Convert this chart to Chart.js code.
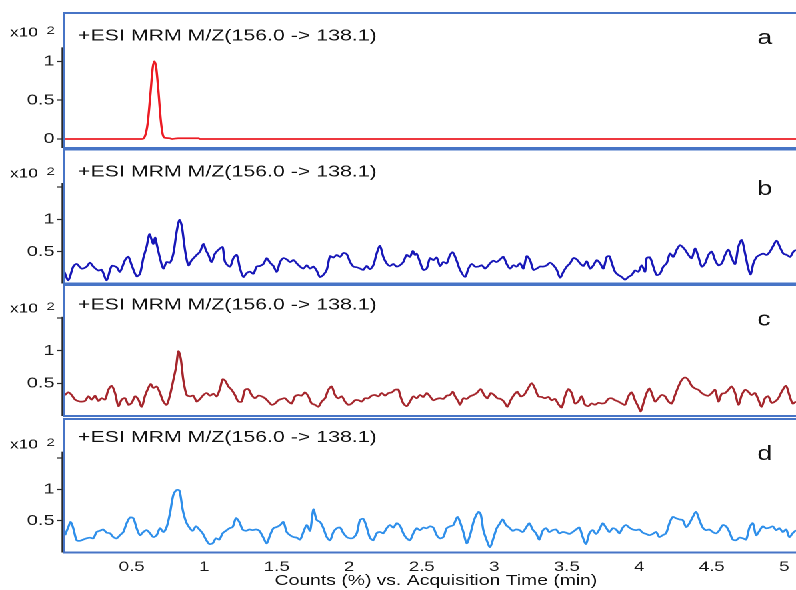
<!DOCTYPE html>
<html><head><meta charset="utf-8">
<script src="https://cdn.jsdelivr.net/npm/chart.js@4.4.0/dist/chart.umd.min.js"></script>
<style>
html,body{margin:0;padding:0;background:#fff;overflow:hidden;width:796px;height:590px;}
#wrap{position:absolute;left:0;top:0;width:597px;height:590px;transform:scaleX(1.3333);transform-origin:0 0;}
canvas{position:absolute;left:0;}
</style></head><body>
<div id="wrap">
<canvas id="ca" width="597" height="152" style="top:0px"></canvas>
<canvas id="cb" width="597" height="142" style="top:146px"></canvas>
<canvas id="cc" width="597" height="138" style="top:282px"></canvas>
<canvas id="cd" width="597" height="176" style="top:414px"></canvas>
</div>
<script>
// ---------- data (time in min, counts x10^2) ----------
const panelTitle = "+ESI MRM M/Z(156.0 -> 138.1)";
const xAxisTitle = "Counts (%) vs. Acquisition Time (min)";
const panelLetters = ["a", "b", "c", "d"];
const xTicks = [0.5, 1, 1.5, 2, 2.5, 3, 3.5, 4, 4.5, 5];
const yTicksA = [0, 0.5, 1];
const yLabelsA = ["0", "0.5", "1"];
const yTicksBCD = [0.5, 1, 1.5];
const yLabelsBCD = ["0.5", "1", ""];

const timeA = [0.033,0.570,0.590,0.610,0.630,0.645,0.656,0.668,0.685,0.700,0.715,0.730,0.760,0.780,0.820,0.960,0.970,5.081];
const countsA = [0,0,0.03,0.20,0.60,0.92,1.00,0.93,0.60,0.25,0.05,0.015,0.01,0,0.01,0.01,0,0];

const timeB = [0.035,0.063,0.097,0.120,0.155,0.189,0.212,0.235,0.270,0.293,
0.327,0.362,0.396,0.419,0.454,0.477,0.500,0.534,0.557,0.580,
0.603,0.622,0.638,0.649,0.661,0.672,0.695,0.718,0.741,0.764,
0.787,0.810,0.829,0.845,0.868,0.891,0.914,0.948,0.971,0.994,
1.012,1.029,1.051,1.074,1.109,1.127,1.144,1.178,1.201,1.224,
1.247,1.270,1.293,1.316,1.339,1.362,1.385,1.408,1.431,1.454,
1.477,1.500,1.523,1.546,1.569,1.592,1.615,1.638,1.661,1.684,
1.707,1.730,1.752,1.775,1.798,1.821,1.845,1.868,1.891,1.914,
1.937,1.960,1.983,2.006,2.029,2.052,2.074,2.097,2.120,2.143,
2.166,2.189,2.212,2.235,2.258,2.281,2.304,2.327,2.350,
2.373,2.396,2.419,2.438,2.454,2.465,2.488,2.511,2.534,2.557,
2.580,2.603,2.626,2.649,2.672,2.695,2.714,2.741,2.764,2.799,
2.822,2.845,2.868,2.891,2.914,2.937,2.971,2.994,3.017,3.040,
3.063,3.086,3.109,3.132,3.155,3.178,3.201,3.224,3.247,3.270,
3.293,3.316,3.339,3.362,3.385,3.408,3.431,3.454,3.477,3.500,
3.523,3.546,3.569,3.592,3.615,3.638,3.661,3.684,3.707,3.730,
3.753,3.776,3.794,3.810,3.833,3.856,3.879,3.902,3.925,3.948,
3.971,3.994,4.017,4.040,4.051,4.074,4.097,4.120,4.143,4.166,
4.189,4.212,4.235,4.258,4.281,4.300,4.316,4.339,4.362,4.385,
4.408,4.431,4.454,4.477,4.500,4.523,4.546,4.569,4.592,4.615,
4.638,4.661,4.684,4.707,4.730,4.752,4.768,4.787,4.810,4.832,
4.855,4.878,4.901,4.924,4.947,4.970,4.994,5.017,5.040,5.063,5.081];
const countsB = [0.19,0.06,0.27,0.31,0.24,0.27,0.33,0.27,0.21,0.22,
0.06,0.28,0.26,0.19,0.37,0.42,0.29,0.12,0.16,0.40,
0.58,0.77,0.68,0.62,0.72,0.62,0.40,0.24,0.34,0.33,
0.47,0.81,0.99,0.90,0.52,0.29,0.37,0.45,0.50,0.62,
0.52,0.45,0.34,0.47,0.55,0.57,0.34,0.27,0.40,0.45,
0.24,0.11,0.17,0.19,0.16,0.27,0.28,0.31,0.40,0.33,
0.28,0.19,0.34,0.40,0.38,0.34,0.37,0.32,0.27,0.24,
0.29,0.24,0.27,0.21,0.11,0.14,0.22,0.43,0.41,0.45,
0.42,0.48,0.46,0.34,0.27,0.26,0.24,0.22,0.28,0.23,
0.29,0.47,0.59,0.42,0.32,0.28,0.31,0.27,0.29,
0.34,0.45,0.42,0.51,0.45,0.47,0.34,0.22,0.24,0.40,
0.37,0.41,0.28,0.34,0.32,0.45,0.49,0.36,0.22,0.11,
0.24,0.31,0.27,0.27,0.29,0.24,0.32,0.36,0.34,0.38,
0.42,0.31,0.24,0.29,0.27,0.32,0.24,0.43,0.37,0.22,
0.24,0.27,0.27,0.29,0.33,0.29,0.22,0.10,0.19,0.27,
0.32,0.40,0.38,0.32,0.28,0.35,0.24,0.29,0.37,0.32,
0.24,0.42,0.43,0.33,0.19,0.14,0.11,0.07,0.11,0.14,
0.21,0.19,0.29,0.19,0.40,0.41,0.27,0.14,0.16,0.27,
0.32,0.47,0.42,0.53,0.60,0.57,0.53,0.45,0.40,0.55,
0.42,0.27,0.32,0.45,0.50,0.37,0.29,0.32,0.45,0.53,
0.40,0.31,0.58,0.68,0.47,0.24,0.15,0.32,0.42,0.45,
0.47,0.45,0.50,0.59,0.67,0.57,0.47,0.45,0.42,0.50,0.53];

const timeC = [0.040,0.063,0.086,0.109,0.143,0.178,0.201,0.224,0.247,0.270,
0.293,0.316,0.339,0.362,0.385,0.408,0.431,0.454,0.477,0.500,
0.523,0.546,0.569,0.592,0.615,0.631,0.649,0.672,0.695,0.718,
0.741,0.764,0.787,0.806,0.822,0.838,0.856,0.879,0.902,0.925,
0.948,0.971,0.994,1.017,1.040,1.063,1.086,1.109,1.127,1.144,
1.167,1.189,1.212,1.235,1.258,1.281,1.304,1.327,1.350,1.373,
1.396,1.419,1.442,1.465,1.488,1.511,1.534,1.557,1.580,1.603,
1.626,1.649,1.672,1.695,1.718,1.741,1.764,1.787,1.810,1.833,
1.856,1.879,1.902,1.925,1.948,1.971,1.994,2.017,2.040,2.063,
2.086,2.109,2.132,2.155,2.178,2.201,2.224,2.247,2.270,2.293,
2.316,2.339,
2.350,2.373,2.396,2.419,2.442,2.465,2.488,2.511,2.534,2.557,
2.580,2.603,2.626,2.649,2.672,2.695,2.714,2.730,2.753,2.764,
2.787,2.810,2.833,2.856,2.879,2.907,2.930,2.953,2.976,2.999,
3.022,3.044,3.067,3.090,3.113,3.136,3.159,3.182,3.205,3.228,
3.258,3.281,3.304,3.327,3.350,3.373,3.396,3.419,3.442,3.465,
3.488,3.511,3.534,3.557,3.580,3.603,3.626,3.649,3.672,3.695,
3.718,3.741,3.764,3.787,3.810,3.833,3.856,3.879,3.902,3.925,
3.948,3.971,3.994,4.010,4.028,4.051,4.070,4.086,4.109,4.132,
4.155,4.178,4.201,4.224,4.247,4.270,4.293,4.316,4.339,4.362,
4.385,4.408,4.431,4.454,4.477,4.500,4.523,4.546,4.569,4.592,
4.615,4.638,4.661,4.684,4.707,4.730,4.752,4.775,4.798,4.821,
4.844,4.867,4.890,4.913,4.936,4.959,4.982,5.012,5.035,5.058,5.081];
const countsC = [0.32,0.36,0.32,0.25,0.22,0.23,0.30,0.25,0.31,0.23,
0.27,0.25,0.40,0.46,0.35,0.15,0.25,0.27,0.17,0.20,
0.30,0.25,0.14,0.31,0.43,0.49,0.43,0.45,0.35,0.22,
0.17,0.32,0.55,0.75,0.99,0.88,0.55,0.32,0.30,0.31,
0.22,0.26,0.32,0.35,0.31,0.34,0.30,0.42,0.56,0.54,
0.45,0.40,0.32,0.22,0.22,0.40,0.41,0.32,0.27,0.31,
0.30,0.27,0.22,0.17,0.19,0.24,0.26,0.27,0.22,0.19,
0.30,0.32,0.31,0.36,0.30,0.19,0.17,0.14,0.22,0.27,
0.40,0.45,0.32,0.27,0.30,0.22,0.17,0.19,0.24,0.24,
0.22,0.27,0.27,0.31,0.32,0.30,0.35,0.31,0.35,0.36,
0.40,0.40,
0.32,0.19,0.15,0.22,0.30,0.27,0.32,0.29,0.35,0.30,
0.24,0.26,0.27,0.26,0.31,0.32,0.37,0.30,0.22,0.17,
0.27,0.26,0.30,0.32,0.35,0.41,0.32,0.27,0.35,0.32,
0.27,0.26,0.22,0.14,0.24,0.32,0.37,0.30,0.32,0.40,
0.50,0.42,0.30,0.29,0.27,0.29,0.24,0.26,0.18,0.13,
0.30,0.41,0.35,0.19,0.22,0.30,0.17,0.15,0.19,0.17,
0.20,0.19,0.20,0.26,0.27,0.24,0.22,0.19,0.17,0.30,
0.36,0.24,0.14,0.07,0.19,0.35,0.42,0.35,0.22,0.27,
0.32,0.30,0.22,0.19,0.32,0.45,0.55,0.59,0.55,0.46,
0.42,0.40,0.35,0.32,0.31,0.35,0.40,0.22,0.34,0.35,
0.40,0.45,0.35,0.17,0.32,0.40,0.37,0.32,0.35,0.25,
0.14,0.27,0.30,0.20,0.22,0.27,0.37,0.46,0.32,0.19,0.22];

const timeD = [0.040,0.063,0.079,0.097,0.120,0.143,0.166,0.189,0.212,0.235,
0.258,0.281,0.304,0.327,0.350,0.373,0.396,0.419,0.442,0.465,
0.488,0.511,0.534,0.557,0.580,0.603,0.626,0.649,0.672,0.695,
0.718,0.741,0.764,0.787,0.810,0.829,0.852,0.875,0.898,0.920,
0.943,0.966,0.989,1.012,1.035,1.058,1.081,1.104,1.127,1.150,
1.173,1.196,1.219,1.242,1.265,1.288,1.311,1.334,1.357,1.380,
1.408,1.431,1.454,1.477,1.500,1.523,1.546,1.569,1.592,1.615,
1.638,1.661,1.684,1.707,1.730,1.753,1.776,1.799,1.822,1.845,
1.868,1.891,1.914,1.937,1.960,1.983,2.006,2.029,2.052,2.074,
2.097,2.120,2.143,2.166,2.189,2.212,2.235,2.258,2.281,2.304,
2.327,
2.350,2.373,2.396,2.419,2.442,2.465,2.488,2.511,2.534,2.557,
2.580,2.603,2.626,2.649,2.672,2.695,2.718,2.746,2.764,2.787,
2.810,2.833,2.861,2.891,2.907,2.925,2.948,2.971,2.994,3.017,
3.040,3.058,3.081,3.104,3.127,3.150,3.173,3.196,3.219,3.242,
3.265,3.288,3.311,3.334,3.357,3.380,3.403,3.426,3.449,3.472,
3.495,3.518,3.541,3.564,3.587,3.610,3.633,3.656,3.679,3.702,
3.725,3.748,3.771,3.794,3.817,3.840,3.863,3.886,3.909,3.932,
3.955,3.978,4.001,4.024,4.047,4.070,4.093,4.116,4.139,4.162,
4.185,4.208,4.231,4.254,4.277,4.300,4.323,4.346,4.369,4.392,
4.415,4.438,4.461,4.484,4.507,4.530,4.553,4.576,4.599,4.622,
4.645,4.668,4.691,4.714,4.737,4.760,4.783,4.806,4.829,4.852,
4.875,4.898,4.921,4.944,4.967,4.990,5.013,5.035,5.058,5.081];
const countsD = [0.27,0.40,0.48,0.38,0.19,0.18,0.20,0.22,0.23,0.22,
0.32,0.34,0.36,0.31,0.30,0.24,0.22,0.27,0.32,0.46,
0.55,0.54,0.38,0.27,0.32,0.35,0.30,0.24,0.27,0.38,
0.32,0.40,0.62,0.91,0.99,0.98,0.67,0.48,0.39,0.34,
0.41,0.36,0.30,0.20,0.13,0.14,0.22,0.20,0.30,0.34,
0.38,0.40,0.54,0.48,0.36,0.34,0.36,0.35,0.36,0.34,
0.23,0.14,0.27,0.38,0.40,0.43,0.48,0.32,0.27,0.24,
0.23,0.20,0.32,0.43,0.34,0.68,0.51,0.48,0.38,0.24,
0.19,0.32,0.38,0.39,0.30,0.24,0.22,0.23,0.30,0.51,
0.53,0.40,0.23,0.19,0.30,0.32,0.30,0.38,0.43,0.39,
0.46,
0.42,0.30,0.22,0.19,0.30,0.38,0.35,0.39,0.38,0.41,
0.39,0.27,0.22,0.24,0.38,0.41,0.43,0.56,0.48,0.32,
0.14,0.27,0.51,0.64,0.60,0.35,0.19,0.08,0.22,0.38,
0.46,0.52,0.43,0.39,0.34,0.36,0.35,0.32,0.39,0.46,
0.36,0.30,0.20,0.34,0.38,0.32,0.35,0.36,0.30,0.32,
0.31,0.29,0.32,0.36,0.39,0.24,0.13,0.30,0.35,0.29,
0.36,0.46,0.39,0.32,0.38,0.36,0.30,0.39,0.43,0.39,
0.36,0.35,0.36,0.31,0.29,0.27,0.29,0.32,0.24,0.27,
0.30,0.46,0.56,0.54,0.52,0.51,0.40,0.46,0.56,0.64,
0.51,0.39,0.35,0.36,0.32,0.30,0.35,0.43,0.41,0.32,
0.20,0.19,0.23,0.22,0.20,0.39,0.46,0.27,0.34,0.41,
0.38,0.39,0.41,0.35,0.38,0.32,0.36,0.24,0.30,0.35];

// ---------- rendering ----------
const FONT = '"Liberation Sans", Arial, Helvetica, sans-serif';
const X_MIN = 0.033, X_MAX = 5.081;

function pts(t, v) {
  const n = Math.min(t.length, v.length);
  const out = [];
  for (let i = 0; i < n; i++) out.push({x: t[i], y: v[i]});
  return out;
}

const panelDeco = {
  id: 'panelDeco',
  afterDraw(chart, args, o) {
    const ctx = chart.ctx, a = chart.chartArea, ys = chart.scales.y;
    ctx.save();
    // dark axis line
    ctx.strokeStyle = '#2a2a2a'; ctx.lineWidth = 1.1;
    ctx.beginPath();
    ctx.moveTo(a.left - 1.3, ys.getPixelForValue(o.axisTop));
    ctx.lineTo(a.left - 1.3, a.bottom);
    ctx.stroke();
    // blue frame
    ctx.strokeStyle = '#4774c6';
    ctx.lineWidth = 2;
    ctx.beginPath();
    ctx.moveTo(a.left, a.top); ctx.lineTo(chart.width, a.top);
    ctx.moveTo(a.left, a.bottom); ctx.lineTo(chart.width, a.bottom);
    ctx.stroke();
    ctx.lineWidth = 1.5;
    ctx.beginPath();
    ctx.moveTo(a.left, a.top - 1); ctx.lineTo(a.left, a.bottom + 1);
    ctx.stroke();
    // texts
    ctx.fillStyle = '#111';
    ctx.textBaseline = 'alphabetic';
    ctx.textAlign = 'left';
    ctx.font = '16px ' + FONT;
    ctx.fillText(o.title, 58.5, a.top + o.titleY);
    ctx.font = '20px ' + FONT;
    ctx.fillText(o.letter, 568, a.top + o.letterY);
    ctx.font = '13px ' + FONT;
    ctx.fillText('x10', 7.5, a.top + o.expY);
    ctx.font = '11px ' + FONT;
    ctx.fillText('2', 35, a.top + o.expY - 2.5);
    if (o.xTitle) {
      ctx.font = '14.5px ' + FONT;
      ctx.textAlign = 'center';
      ctx.fillText(o.xTitle, 327, o.xTitleY);
    }
    ctx.restore();
  }
};

function yScale(min, max, ticks, labels) {
  return {
    type: 'linear', position: 'left', min: min, max: max,
    afterFit(s) { s.width = 48; s.paddingTop = 0; s.paddingBottom = 0; },
    afterBuildTicks(s) { s.ticks = ticks.map(v => ({value: v})); },
    ticks: {autoSkip: false, color: '#1a1a1a', font: {family: FONT, size: 15}, padding: 2,
            callback: (v, i) => labels[i]},
    grid: {display: true, drawOnChartArea: false, drawTicks: true, tickLength: 5,
           tickColor: '#2a2a2a', tickWidth: 1.2},
    border: {display: false}
  };
}

function xScale(show) {
  return {
    type: 'linear', min: X_MIN, max: X_MAX, display: show,
    afterBuildTicks(s) { s.ticks = xTicks.map(v => ({value: v})); },
    afterFit(s) { s.height = show ? 37.5 : 0; s.paddingLeft = 0; s.paddingRight = 0; },
    grid: {display: false, drawTicks: false},
    border: {display: false},
    ticks: {autoSkip: false, maxRotation: 0, color: '#1a1a1a',
            font: {family: FONT, size: 14}, padding: 6, callback: v => String(v)}
  };
}

function make(id, t, v, color, yMin, yMax, yT, yL, pad, deco, showX, smooth) {
  const ds = {data: pts(t, v), borderColor: color, borderWidth: 1.7, pointRadius: 0, fill: false};
  if (smooth === 'mono') ds.cubicInterpolationMode = 'monotone'; else ds.tension = 0.3;
  return new Chart(document.getElementById(id), {
    type: 'line',
    data: {datasets: [ds]},
    options: {
      responsive: false, maintainAspectRatio: false, animation: false,
      devicePixelRatio: 2, events: [],
      layout: {padding: pad},
      scales: {x: xScale(showX), y: yScale(yMin, yMax, yT, yL)},
      plugins: {legend: {display: false}, tooltip: {enabled: false}, panelDeco: deco}
    },
    plugins: [panelDeco]
  });
}

make('ca', timeA, countsA, '#ec1c24', -0.116, 1.622, yTicksA, yLabelsA,
  {top: 13, bottom: 4, left: 0, right: 0},
  {title: panelTitle, letter: panelLetters[0], titleY: 27.7, letterY: 31, expY: 23.7, axisTop: 1.18}, false, 'mono');
make('cb', timeB, countsB, '#1818b8', 0.009, 2.077, yTicksBCD, yLabelsBCD,
  {top: 3.5, bottom: 4.5, left: 0, right: 0},
  {title: panelTitle, letter: panelLetters[1], titleY: 27.2, letterY: 45.5, expY: 27.8, axisTop: 1.56}, false);
make('cc', timeC, countsC, '#a5262c', -0.002, 2.008, yTicksBCD, yLabelsBCD,
  {top: 3, bottom: 4, left: 0, right: 0},
  {title: panelTitle, letter: panelLetters[2], titleY: 24.3, letterY: 40.7, expY: 27.7, axisTop: 1.52}, false);
make('cd', timeD, countsD, '#2f8fea', -0.006, 2.12, yTicksBCD, yLabelsBCD,
  {top: 5, bottom: 0, left: 0, right: 0},
  {title: panelTitle, letter: panelLetters[3], titleY: 23, letterY: 41, expY: 29.3, axisTop: 1.6,
   xTitle: xAxisTitle, xTitleY: 171}, true);
</script>
</body></html>
